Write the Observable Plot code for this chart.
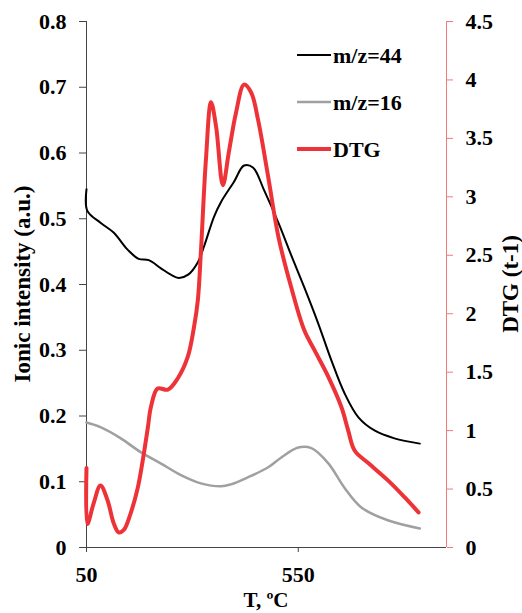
<!DOCTYPE html>
<html>
<head>
<meta charset="utf-8">
<script src="https://cdn.jsdelivr.net/npm/d3@7"></script>
<script src="https://cdn.jsdelivr.net/npm/@observablehq/plot@0.6"></script>
<style>
  html, body { margin: 0; padding: 0; background: #fff; }
  svg { display: block; }
</style>
</head>
<body>
<div id="chart"></div>
<script>
// Temperature ticks
const xTicks = [50, 550];
const leftTicks = [0, 0.1, 0.2, 0.3, 0.4, 0.5, 0.6, 0.7, 0.8];
const rightTicks = [0, 0.5, 1, 1.5, 2, 2.5, 3, 3.5, 4, 4.5];

// m/z=44 (left axis)
const T44 = [50, 52, 83, 114, 147, 173, 197, 225, 249, 268, 290, 313, 327, 351, 368, 398, 422, 443, 469, 503, 533, 564, 597, 628, 659, 692, 730, 777, 837];
const V44 = [0.545, 0.512, 0.494, 0.479, 0.453, 0.439, 0.437, 0.425, 0.415, 0.410, 0.415, 0.434, 0.457, 0.503, 0.526, 0.556, 0.581, 0.578, 0.544, 0.494, 0.445, 0.396, 0.341, 0.285, 0.235, 0.198, 0.178, 0.166, 0.158];

// m/z=16 (left axis)
const T16 = [50, 83, 131, 178, 225, 273, 320, 368, 391, 432, 479, 510, 550, 581, 621, 659, 699, 763, 837];
const V16 = [0.190, 0.183, 0.166, 0.145, 0.128, 0.110, 0.0975, 0.093, 0.096, 0.107, 0.122, 0.137, 0.152, 0.151, 0.128, 0.091, 0.061, 0.041, 0.029];

// DTG (right axis)
const TD = [50, 52, 67, 83, 100, 114, 126, 138, 154, 171, 183, 195, 202, 218, 242, 266, 289, 304, 313, 320, 332, 344, 356, 372, 386, 403, 422, 439, 455, 479, 503, 533, 564, 588, 621, 652, 668, 683, 716, 763, 801, 834];
const VD = [0.68, 0.20, 0.38, 0.53, 0.40, 0.21, 0.13, 0.15, 0.29, 0.51, 0.75, 1.03, 1.20, 1.36, 1.35, 1.45, 1.63, 1.89, 2.12, 2.52, 3.32, 3.81, 3.60, 3.10, 3.38, 3.72, 3.96, 3.89, 3.66, 3.17, 2.66, 2.23, 1.86, 1.69, 1.46, 1.20, 1.00, 0.83, 0.72, 0.57, 0.43, 0.30];

const seriesNames = ["m/z=44", "m/z=16", "DTG"];
const seriesColors = ["#000000", "#a0a0a0", "#ee3338"];

const leftMax = 0.8, rightMax = 4.5;
const k = leftMax / rightMax;

const d44 = T44.map((t, i) => ({t, v: V44[i]}));
const d16 = T16.map((t, i) => ({t, v: V16[i]}));
const dD = TD.map((t, i) => ({t, v: VD[i] * k}));

const fmt = v => String(+v.toFixed(2));
const FONT = "'Liberation Serif', 'Times New Roman', serif";

const svg = Plot.plot({
  width: 522,
  height: 613,
  marginLeft: 86,
  marginRight: 76,
  marginTop: 21,
  marginBottom: 66,
  style: {fontFamily: FONT, fontWeight: "bold", fontSize: "22px", background: "#fff", color: "#000"},
  x: {domain: [50, 900]},
  y: {domain: [0, leftMax]},
  marks: [
    Plot.axisX({ticks: xTicks, tickSize: 5, tickPadding: 14, tickFormat: d => String(d), label: null, stroke: "#444", fill: "#000"}),
    Plot.axisY({ticks: leftTicks, tickSize: 7, tickPadding: 13, tickFormat: fmt, label: null, stroke: "#444", fill: "#000"}),
    Plot.axisY({anchor: "right", ticks: rightTicks.map(d => d * k), tickSize: 6, tickPadding: 13, tickFormat: d => fmt(d / k), label: null, stroke: "#f07a7d", fill: "#000"}),
    Plot.ruleX([50], {stroke: "#444", strokeWidth: 1}),
    Plot.ruleX([900], {stroke: "#f07a7d", strokeWidth: 1}),
    Plot.ruleY([0], {stroke: "#444", strokeWidth: 1}),
    Plot.line(d16, {x: "t", y: "v", stroke: seriesColors[1], strokeWidth: 2.5, curve: "catmull-rom"}),
    Plot.line(d44, {x: "t", y: "v", stroke: seriesColors[0], strokeWidth: 2, curve: "catmull-rom"}),
    Plot.line(dD, {x: "t", y: "v", stroke: seriesColors[2], strokeWidth: 4, curve: "catmull-rom"})
  ]
});

document.getElementById("chart").appendChild(svg);

const s = d3.select(svg);
// Axis titles
s.append("text")
  .attr("transform", "translate(22,284) rotate(-90)")
  .attr("text-anchor", "middle").attr("dy", "0.35em")
  .style("font-family", FONT).style("font-weight", "bold").style("font-size", "23px")
  .text("Ionic intensity (a.u.)");
s.append("text")
  .attr("transform", "translate(510,284) rotate(-90)")
  .attr("text-anchor", "middle").attr("dy", "0.35em")
  .style("font-family", FONT).style("font-weight", "bold").style("font-size", "23px")
  .text("DTG (t-1)");
s.append("text")
  .attr("x", 266).attr("y", 607)
  .attr("text-anchor", "middle")
  .style("font-family", FONT).style("font-weight", "bold").style("font-size", "21px")
  .text("T, ºC");

// Legend
const legendY = [55, 102, 149];
const legendW = [2, 2.5, 4];
seriesNames.forEach((name, i) => {
  s.append("line")
    .attr("x1", 297).attr("x2", 331)
    .attr("y1", legendY[i]).attr("y2", legendY[i])
    .attr("stroke", seriesColors[i]).attr("stroke-width", legendW[i]);
  s.append("text")
    .attr("x", 333).attr("y", legendY[i]).attr("dy", "0.35em")
    .attr("text-anchor", "start")
    .style("font-family", FONT).style("font-weight", "bold").style("font-size", "22px")
    .text(name);
});
</script>
</body>
</html>
